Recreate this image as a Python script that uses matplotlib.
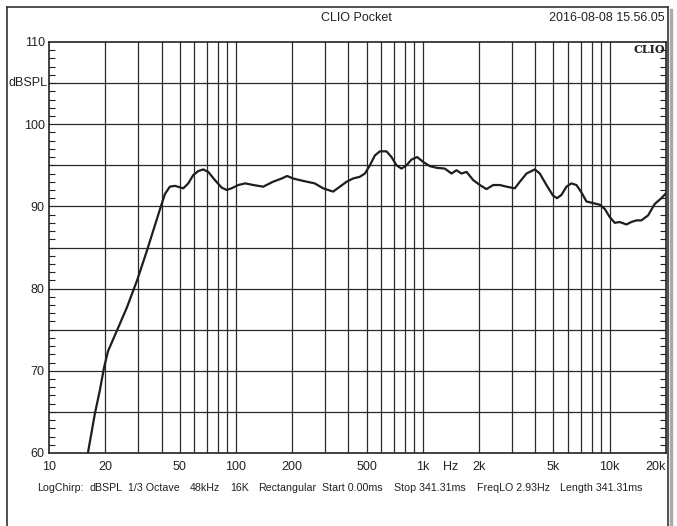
import matplotlib.pyplot as plt
import numpy as np
from matplotlib.lines import Line2D
from matplotlib.ticker import MultipleLocator, FixedLocator, NullFormatter

plt.rcParams['font.family'] = ['Liberation Sans', 'DejaVu Sans']

# frequency response
freq = [16.15, 17.6, 18.7, 19.7, 20.7, 23.1, 26.1, 29.6, 33.4, 39.3, 41.7, 44.3, 47.2,
        52.3, 55.6, 59.1, 62.9, 66.8, 71.1, 77.2, 83.8, 89.1, 94.8, 103, 112, 124, 140,
        158, 176, 188, 202, 229, 264, 293, 331, 360, 391, 424, 460, 490, 521, 554, 589,
        639, 680, 723, 769, 818, 870, 933, 1005, 1090, 1183, 1311, 1424, 1514, 1610,
        1713, 1860, 2020, 2190, 2380, 2582, 2806, 3106, 3304, 3588, 3975, 4226, 4585,
        4977, 5227, 5516, 5868, 6238, 6635, 7056, 7506, 8147, 8850, 9400, 10000, 10640,
        11310, 12270, 13050, 13890, 14770, 16030, 17410, 18900, 20000]
spl = [60.0, 64.8, 67.6, 70.4, 72.4, 74.9, 77.7, 81.0, 84.6, 89.7, 91.5, 92.4, 92.5,
       92.2, 92.8, 93.8, 94.3, 94.5, 94.2, 93.2, 92.3, 92.0, 92.2, 92.6, 92.8, 92.6, 92.4,
       93.0, 93.4, 93.7, 93.4, 93.1, 92.8, 92.2, 91.8, 92.4, 93.0, 93.4, 93.6, 94.0, 95.0,
       96.2, 96.7, 96.7, 96.0, 95.0, 94.6, 95.0, 95.7, 96.0, 95.4, 94.9, 94.7, 94.6, 94.0,
       94.4, 94.0, 94.2, 93.2, 92.6, 92.1, 92.6, 92.6, 92.4, 92.2, 93.0, 94.0, 94.5, 94.0,
       92.6, 91.3, 91.0, 91.4, 92.4, 92.8, 92.6, 91.7, 90.6, 90.4, 90.2, 89.7, 88.7, 88.0,
       88.1, 87.8, 88.1, 88.3, 88.3, 88.9, 90.3, 91.0, 91.6]

xtick_pos = [10, 20, 50, 100, 200, 500, 1000, 1400, 2000, 5000, 10000, 20000]
xtick_lab = ['10', '20', '50', '100', '200', '500', '1k', 'Hz', '2k', '5k', '10k', '20k']
ytick_pos = [60, 70, 80, 90, 100, 110]

# settings line under the plot: (text, left x in px)
info_items = [('LogChirp:', 37), ('dBSPL', 89), ('1/3 Octave', 128), ('48kHz', 190),
              ('16K', 230), ('Rectangular', 258), ('Start 0.00ms', 322),
              ('Stop 341.31ms', 394), ('FreqLO 2.93Hz', 477), ('Length 341.31ms', 560)]

fig = plt.figure(figsize=(6.77, 5.26), dpi=100)
ax = fig.add_axes([49/677, 1-453/526, (666-49)/677, (453-42)/526])

ax.semilogx(freq, spl, color='#1e1e1e', lw=1.6)
ax.set_xlim(10, 20000)
ax.set_ylim(60, 110)

# grid lines: every 1..9 multiple per decade, every 5 dB
vgrid = [m * 10**d for d in range(1, 5) for m in range(1, 10) if 10 < m * 10**d < 20000]
for v in vgrid:
    ax.axvline(v, color='#2a2a2a', lw=0.9, zorder=0)
for h in range(65, 110, 5):
    ax.axhline(h, color='#2a2a2a', lw=0.9, zorder=0)

ax.xaxis.set_major_locator(FixedLocator(xtick_pos))
ax.set_xticklabels(xtick_lab)
ax.xaxis.set_minor_locator(FixedLocator([]))
ax.xaxis.set_minor_formatter(NullFormatter())
ax.tick_params(axis='x', length=0, labelsize=9, colors='#222', pad=6)
ax.get_xticklabels()[-1].set_horizontalalignment('right')

ax.yaxis.set_major_locator(FixedLocator(ytick_pos))
ax.yaxis.set_minor_locator(MultipleLocator(1))
ax.tick_params(axis='y', which='both', direction='in', left=True, right=True,
               labelsize=9, colors='#222')
ax.tick_params(axis='y', which='major', length=0, pad=3)
ax.tick_params(axis='y', which='minor', length=4, width=0.8)

for s in ax.spines.values():
    s.set_color('#222')
    s.set_linewidth(1.2)

ax.text(-0.003, 105, 'dBSPL', transform=ax.get_yaxis_transform(), ha='right',
        va='center', fontsize=9, color='#222')
ax.text(0.999, 0.994, 'CLIO', transform=ax.transAxes, ha='right', va='top',
        fontsize=8, fontweight='bold', family='DejaVu Serif', color='#222')

fig.text(356/677, 1-18/526, 'CLIO Pocket', ha='center', va='center', fontsize=9, color='#222')
fig.text(665/677, 1-18/526, '2016-08-08 15.56.05', ha='right', va='center', fontsize=9, color='#222')
for txt, px in info_items:
    fig.text(px/677, 1-488/526, txt, ha='left', va='center', fontsize=7.7, color='#222')

# outer frame with a slight shadow on the right
fig.add_artist(Line2D([7/677, 7/677], [0, 1-7/526], color='#333', lw=1.2))
fig.add_artist(Line2D([7/677, 668/677], [1-7/526, 1-7/526], color='#333', lw=1.2))
fig.add_artist(Line2D([668/677, 668/677], [0, 1-7/526], color='#333', lw=1.2))
fig.add_artist(Line2D([671/677, 671/677], [0, 1-10/526], color='#aaa', lw=2.5))

fig.savefig('out.png', dpi=100)
